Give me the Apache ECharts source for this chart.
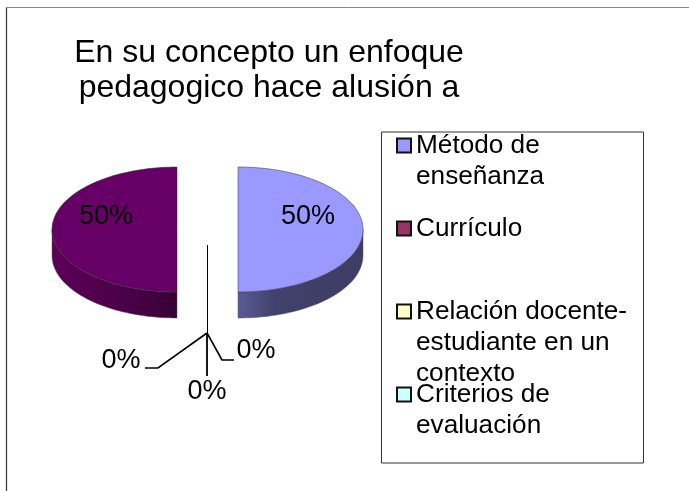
<!DOCTYPE html>
<html><head><meta charset="utf-8">
<style>html,body{margin:0;padding:0;background:#fff}#c{width:689px;height:491px}</style>
<script src="https://cdn.jsdelivr.net/npm/echarts@6/dist/echarts.min.js"></script>
</head><body><div id="c"></div>
<script>
const categories = ['Método de\nenseñanza', 'Currículo', 'Relación docente-\nestudiante en un\ncontexto', 'Criterios de\nevaluación', ''];
const values = [50, 50, 0, 0, 0];
const titleLines = 'En su concepto un enfoque\npedagogico hace alusión a';
const topColors = ['#9999FF', '#660066', '#FFFFCC', '#CCFFFF', '#FFFFFF'];
const legendColors = ['#9999FF', '#993366', '#FFFFCC', '#CCFFFF'];

const FONT = '"Liberation Sans", Arial, sans-serif';
const total = values.reduce((a, b) => a + b, 0);
const RX = 125, RY = 62.5, CY = 229.5, DEPTH = 26;
const centers = [238, 177];
const sideStops = [
  [[0, '#5a5a98'], [0.3, '#41416b'], [1, '#3c3c64']],
  [[0, '#5c0058'], [0.6, '#4a0047'], [1, '#380036']]
];
const valueLabelPos = [[308, 217], [106, 217]];
const leaders = {
  2: { pts: [[207, 333], [222, 360], [234, 360]], lw: 1.6, at: [256, 351] },
  3: { pts: [[207, 333], [207, 376]], lw: 1.8, at: [207, 392] },
  4: { pts: [[207, 333], [158, 368], [145, 368]], lw: 1.6, at: [121, 361] }
};

function ellipsePts(cx, cy, a0, a1) {
  const out = [], n = 90;
  for (let i = 0; i <= n; i++) {
    const t = a0 + (a1 - a0) * i / n;
    out.push([cx + RX * Math.sin(t), cy - RY * Math.cos(t)]);
  }
  return out;
}
function label(text, x, y, extra) {
  return { type: 'text', z2: 20, style: Object.assign({
    text, x, y, align: 'center', verticalAlign: 'middle', fill: '#000',
    font: '27px ' + FONT }, extra || {}) };
}
function renderSlice(idx) {
  return function (params, api) {
    const v = api.value(0), before = values.slice(0, idx).reduce((a, b) => a + b, 0);
    const kids = [];
    const pctText = Math.round(v / total * 100) + '%';
    if (v > 0) {
      const a0 = before / total * 2 * Math.PI, a1 = (before + v) / total * 2 * Math.PI;
      const cx = centers[idx];
      const arc = ellipsePts(cx, CY, a0, a1);
      const lower = arc.filter(p => p[1] >= CY - 0.01);
      const wall = lower.concat(lower.slice().reverse().map(p => [p[0], p[1] + DEPTH]));
      const xs = lower.map(p => p[0]);
      const lo = Math.min(...xs), hi = Math.max(...xs);
      const stops = sideStops[idx].map(s => ({ offset: s[0], color: s[1] }));
      kids.push({ type: 'polygon', shape: { points: wall }, style: {
        fill: new echarts.graphic.LinearGradient(lo, 0, hi, 0, stops, true),
        stroke: '#555', lineWidth: 0.5 } });
      kids.push({ type: 'polygon', shape: { points: [[cx, CY]].concat(arc) }, style: {
        fill: topColors[idx], stroke: '#333', lineWidth: 0.5 } });
      kids.push(label(pctText, valueLabelPos[idx][0], valueLabelPos[idx][1]));
    } else {
      const l = leaders[idx];
      kids.push({ type: 'polyline', shape: { points: l.pts }, style: { fill: null, stroke: '#000', lineWidth: l.lw } });
      kids.push(label(pctText, l.at[0], l.at[1]));
    }
    return { type: 'group', children: kids };
  };
}

const series = categories.map((name, i) => ({
  type: 'custom', name, coordinateSystem: 'none',
  silent: true, animation: false, clip: false,
  itemStyle: { color: i < 4 ? legendColors[i] : '#fff' },
  data: [[values[i]]],
  renderItem: renderSlice(i)
}));

function padLines(name) {
  const lines = name.split('\n');
  const below = Array(3 - lines.length).fill(' ');
  return [' ', ' '].concat(lines, below).join('\n');
}

const chart = echarts.init(document.getElementById('c'), null, { renderer: 'canvas' });
chart.setOption({
  backgroundColor: '#fff',
  animation: false,
  title: {
    text: titleLines, left: 264, top: 31, textAlign: 'center',
    textStyle: { fontFamily: FONT, fontSize: 32, fontWeight: 'normal', color: '#000', lineHeight: 35 }
  },
  legend: {
    orient: 'vertical', left: 396, top: 68, padding: 0, selectedMode: false,
    itemWidth: 14, itemHeight: 14, itemGap: -72,
    icon: 'rect',
    data: categories.slice(0, 4),
    itemStyle: { borderColor: '#111', borderWidth: 2 },
    formatter: padLines,
    textStyle: { fontFamily: FONT, fontSize: 26.2, lineHeight: 31, color: '#000', padding: [0, 0, 0, 0] }
  },
  graphic: [
    { type: 'line', silent: true, shape: { x1: 6.5, y1: 7, x2: 6.5, y2: 491 }, style: { stroke: '#333', lineWidth: 1.2 } },
    { type: 'line', silent: true, shape: { x1: 6, y1: 7.5, x2: 689, y2: 7.5 }, style: { stroke: '#888', lineWidth: 1 } },
    { type: 'rect', silent: true, shape: { x: 381.5, y: 132, width: 262, height: 331 }, style: { fill: null, stroke: '#333', lineWidth: 1 } },
    { type: 'line', silent: true, shape: { x1: 207.5, y1: 245, x2: 207.5, y2: 333 }, style: { stroke: '#000', lineWidth: 1 } }
  ],
  series
});
</script></body></html>
